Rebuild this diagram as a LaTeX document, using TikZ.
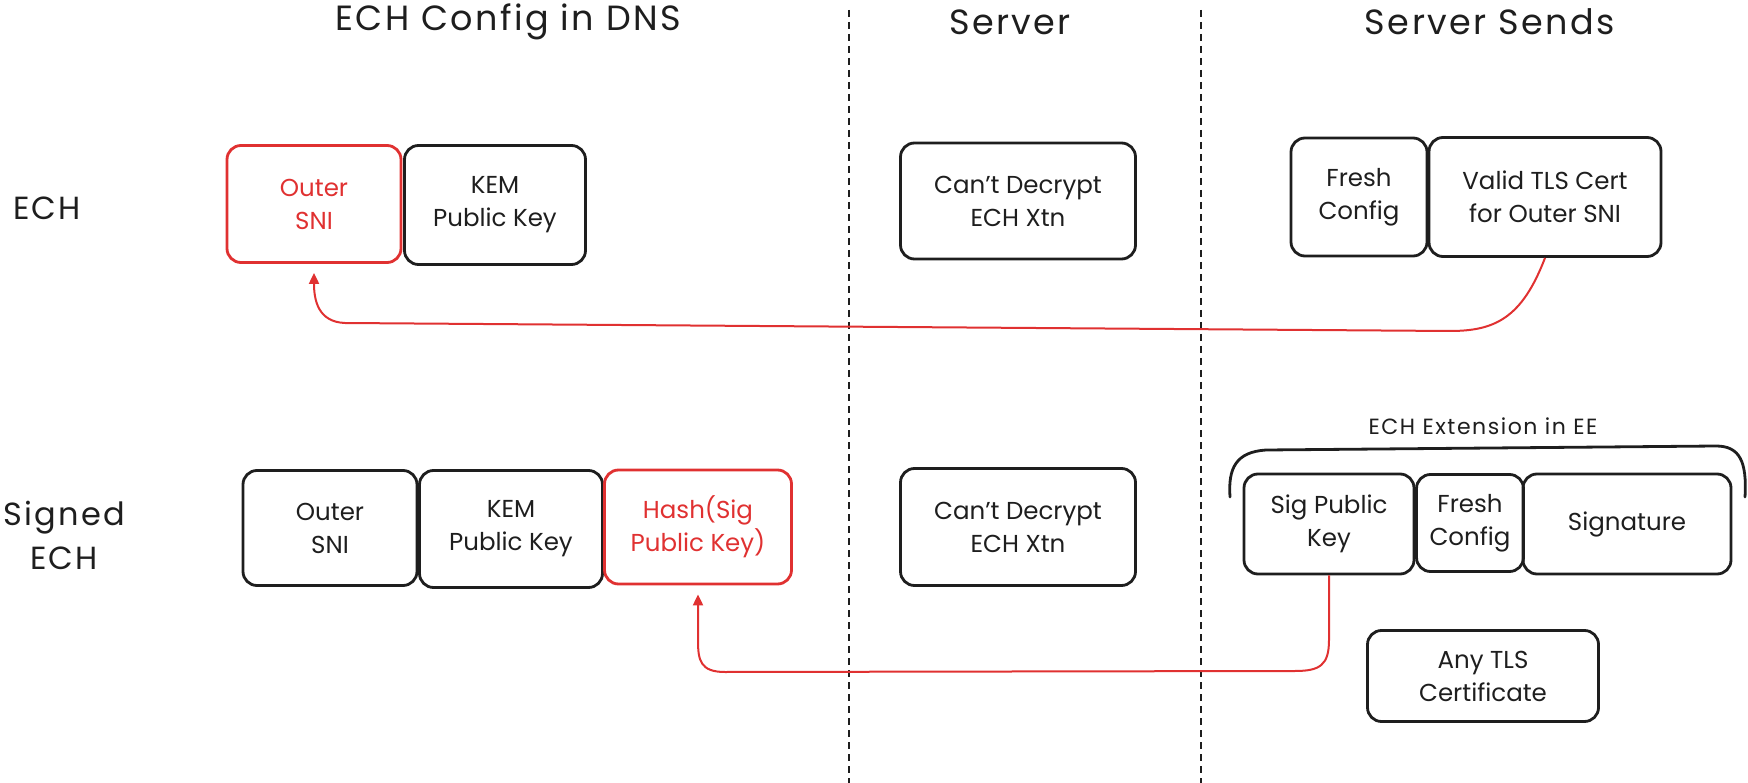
\documentclass[tikz,border=0pt]{standalone}
\usepackage{fontspec}
\setmainfont{Poppins}
\usetikzlibrary{arrows.meta}
\definecolor{ink}{HTML}{1E1E1E}
\definecolor{alert}{HTML}{E03131}
\newfontfamily\widefont[LetterSpace=7]{Poppins}
\tikzset{
  box/.style={draw=ink, line width=2.8pt, rounded corners=14pt, align=center,
    text=ink, inner sep=0pt, font=\fontsize{24.5}{33}\selectfont},
  redbox/.style={box, draw=alert, text=alert},
  heading/.style={text=ink, font=\widefont\fontsize{35}{40}\selectfont},
  rowlabel/.style={text=ink, align=center, font=\widefont\fontsize{32}{44}\selectfont},
  divider/.style={draw=ink, line width=1.6pt, dash pattern=on 7pt off 5pt},
  link/.style={draw=alert, line width=2pt, -{Triangle[length=11pt,width=10pt]}, shorten >=9pt},
  brace/.style={draw=ink, line width=2.8pt, line cap=round}
}
\begin{document}
\begin{tikzpicture}[x=1pt, y=-1pt]
\useasboundingbox (0,0) rectangle (1748,783);

% column headings and separators
\node[heading] (hdns) at (508,22) {ECH Config in DNS};
\node[heading] (hsrv) at (1010,22) {Server};
\node[heading] (hsend) at (1490,22) {Server Sends};
\draw[divider] (849,10) -- (849,783);
\draw[divider] (1201,10) -- (1201,783);

% row labels
\node[rowlabel] (lech) at (47,208) {ECH};
\node[rowlabel] (lsig) at (64,535) {Signed\\ECH};

% plain ECH row
\node[redbox, minimum width=174pt, minimum height=117pt] (r1sni) at (314,204) {Outer\\SNI};
\node[box, minimum width=181pt, minimum height=119pt] (r1kem) at (495,205) {KEM\\Public Key};
\node[box, minimum width=235pt, minimum height=116pt] (r1srv) at (1018,201) {Can't Decrypt\\ECH Xtn};
\node[box, minimum width=136pt, minimum height=118pt] (r1fresh) at (1359,197) {Fresh\\Config};
\node[box, minimum width=232pt, minimum height=119pt] (r1cert) at (1545,197) {Valid TLS Cert\\for Outer SNI};

% signed ECH row
\node[box, minimum width=174pt, minimum height=115pt] (r2sni) at (330,528) {Outer\\SNI};
\node[box, minimum width=183pt, minimum height=117pt] (r2kem) at (511,529) {KEM\\Public Key};
\node[redbox, minimum width=187pt, minimum height=114pt] (r2hash) at (698,527) {Hash(Sig\\Public Key)};
\node[box, minimum width=235pt, minimum height=117pt] (r2srv) at (1018,527) {Can't Decrypt\\ECH Xtn};
\node[box, minimum width=170pt, minimum height=100pt] (r2sig) at (1329,524) {Sig Public\\Key};
\node[box, minimum width=107pt, minimum height=97pt] (r2fresh) at (1470,523) {Fresh\\Config};
\node[box, minimum width=208pt, minimum height=100pt] (r2sign) at (1627,524) {Signature};
\node[box, minimum width=231pt, minimum height=91pt] (anycert) at (1483,676) {Any TLS\\Certificate};

% grouping brace over the EE extension
\node[text=ink, font=\widefont\fontsize{22}{26}\selectfont] (eelabel) at (1483,426) {ECH Extension in EE};
\draw[brace] (1230,497) .. controls (1228,468) and (1236,452) .. (1266,450)
  -- (1716,446) .. controls (1740,446) and (1747,462) .. (1745,497);

% links back to the DNS config
\draw[link] (r1cert.south) .. controls (1522,318) and (1495,331) .. (1450,331)
  -- (345,323) .. controls (318,322) and (314,300) .. (r1sni.south);
\draw[link] (r2sig.south) -- (1329,640) .. controls (1329,665) and (1320,671) .. (1295,671)
  -- (725,672) .. controls (700,672) and (698,660) .. (698,640) -- (r2hash.south);
\end{tikzpicture}
\end{document}
